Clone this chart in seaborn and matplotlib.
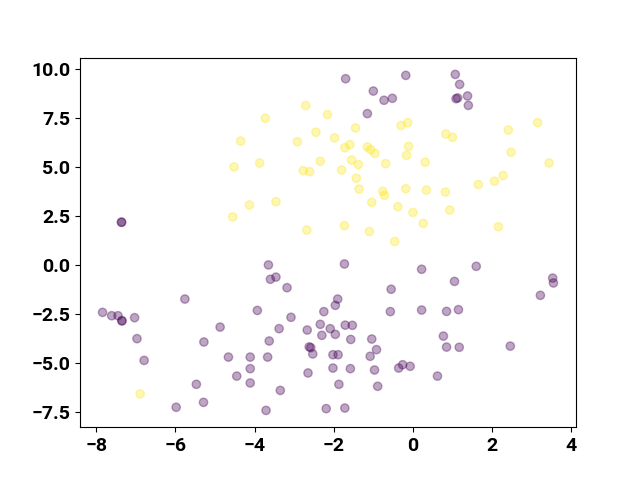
import matplotlib
matplotlib.use("Agg")
from matplotlib import pyplot as plt
import seaborn as sns
import numpy as np
import pandas as pd

# purple cluster (label 0)
x0 = [-1.70, -0.18, -1.00, -0.73, -0.52, -1.15, 1.07, 1.18, 1.09, 1.13, 1.38, 1.40,
      -7.36, -7.36, -7.84, -7.61, -7.45, -7.35, -7.35, -7.03, -6.97, -6.79, -5.76, -4.87,
      -5.28, -4.66, -4.45, -4.11, -4.11, -4.11, -5.47, -5.29, -5.98,
      -3.65, -1.73, -3.60, -3.46, -3.18, -0.55, -3.93, -1.90, -1.96, -2.25, -0.57, -3.08,
      -3.38, -2.67, -2.34, -2.09, -1.96, -2.30, -1.71, -1.53, -1.57, -1.04, -0.92, -1.08,
      -3.63, -3.67, -2.62, -2.58, -2.53, -2.02, -1.89, -2.02, -1.58, -0.97, -2.65, -1.87,
      -0.89, -3.35, -3.71, -2.19, -1.72, -0.36, -0.26, -0.07,
      0.22, 1.60, 1.05, 3.53, 3.55, 3.22, 0.22, 0.85, 1.15, 0.77, 0.85, 1.17, 2.46, 0.62]
y0 = [9.52, 9.69, 8.89, 8.42, 8.52, 7.74, 9.74, 9.23, 8.50, 8.54, 8.64, 8.16,
      2.19, 2.21, -2.40, -2.57, -2.57, -2.84, -2.82, -2.67, -3.74, -4.85, -1.72, -3.15,
      -3.91, -4.68, -5.65, -4.68, -5.27, -6.00, -6.07, -6.99, -7.24,
      0.02, 0.07, -0.71, -0.60, -1.14, -1.22, -2.30, -1.72, -2.04, -2.36, -2.36, -2.65,
      -3.23, -3.30, -3.01, -3.23, -3.52, -3.57, -3.05, -3.06, -3.78, -3.76, -4.30, -4.64,
      -3.86, -4.68, -4.16, -4.20, -4.52, -4.56, -4.56, -5.24, -5.27, -5.34, -5.49, -6.07,
      -6.17, -6.38, -7.40, -7.31, -7.28, -5.24, -5.07, -5.15,
      -0.20, -0.05, -0.82, -0.65, -0.90, -1.53, -2.28, -2.35, -2.26, -3.61, -4.17, -4.18, -4.12, -5.65]

# yellow cluster (label 1)
x1 = [-4.35, -4.52, -4.13, -4.55, -2.71, -3.73, -2.16, -0.30, -0.13, -1.45, -2.45, -2.92,
      -1.98, -1.72, -1.59, -1.15, -1.07, -0.96, -0.11, -0.16, -3.87, -2.34, -1.55, -1.38,
      -0.69, -2.77, -2.61, -1.80, -1.43, -1.36, -0.76, -0.72, -0.18, 0.00, -3.46, -1.04,
      -0.38, -2.68, -1.73, -1.10, -0.46,
      0.83, 1.00, 2.41, 3.15, 0.31, 2.48, 3.44, 2.28, 2.06, 1.65, 0.34, 0.82, 0.93, 0.26, 2.16,
      -6.89]
y1 = [6.34, 5.02, 3.08, 2.47, 8.15, 7.50, 7.69, 7.13, 7.28, 7.01, 6.79, 6.31,
      6.50, 6.00, 6.16, 6.04, 5.90, 5.71, 6.07, 5.61, 5.22, 5.31, 5.37, 5.14,
      5.19, 4.83, 4.78, 4.86, 4.44, 3.89, 3.78, 3.57, 3.91, 2.70, 3.25, 3.21,
      2.99, 1.80, 2.02, 1.73, 1.22,
      6.70, 6.53, 6.90, 7.28, 5.26, 5.77, 5.22, 4.58, 4.29, 4.12, 3.84, 3.74, 2.82, 2.14, 1.97,
      -6.56]

df = pd.DataFrame({
    "x": x0 + x1,
    "y": y0 + y1,
    "label": [0] * len(x0) + [1] * len(x1),
})

plt.rcParams["font.family"] = ["Roboto", "DejaVu Sans"]
plt.rcParams["font.weight"] = "bold"

fig, ax = plt.subplots(figsize=(6.4, 4.8), dpi=100)
sns.scatterplot(data=df, x="x", y="y", hue="label", palette=["#440154", "#fde725"],
                alpha=0.35, s=36, edgecolor="face", linewidth=1, legend=False, ax=ax)
ax.set_xlabel("")
ax.set_ylabel("")
ax.tick_params(labelsize=14)
for lab in ax.get_xticklabels() + ax.get_yticklabels():
    lab.set_fontweight("bold")

plt.savefig("out.png")
